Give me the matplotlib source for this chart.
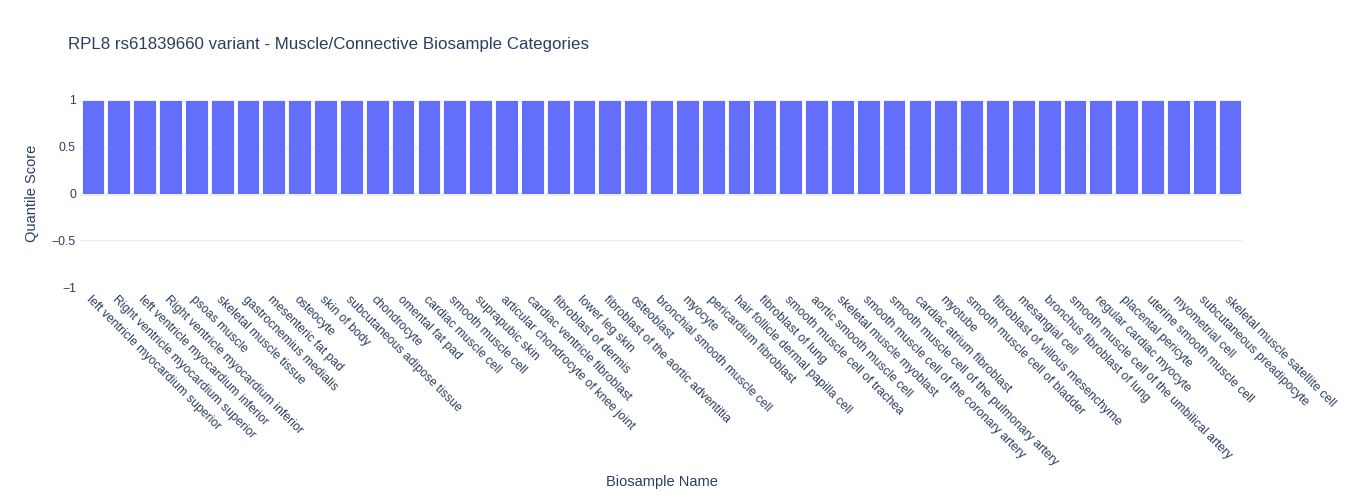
import numpy as np
import matplotlib
matplotlib.use("Agg")
import matplotlib.pyplot as plt

plt.rcParams['font.family'] = ['Liberation Sans', 'DejaVu Sans']

# data
biosamples = [
    "left ventricle myocardium superior",
    "Right ventricle myocardium superior",
    "left ventricle myocardium inferior",
    "Right ventricle myocardium inferior",
    "psoas muscle",
    "skeletal muscle tissue",
    "gastrocnemius medialis",
    "mesenteric fat pad",
    "osteocyte",
    "skin of body",
    "subcutaneous adipose tissue",
    "chondrocyte",
    "omental fat pad",
    "cardiac muscle cell",
    "smooth muscle cell",
    "suprapubic skin",
    "articular chondrocyte of knee joint",
    "cardiac ventricle fibroblast",
    "fibroblast of dermis",
    "lower leg skin",
    "fibroblast of the aortic adventitia",
    "osteoblast",
    "bronchial smooth muscle cell",
    "myocyte",
    "pericardium fibroblast",
    "hair follicle dermal papilla cell",
    "fibroblast of lung",
    "smooth muscle cell of trachea",
    "aortic smooth muscle cell",
    "skeletal muscle myoblast",
    "smooth muscle cell of the coronary artery",
    "smooth muscle cell of the pulmonary artery",
    "cardiac atrium fibroblast",
    "myotube",
    "smooth muscle cell of bladder",
    "fibroblast of villous mesenchyme",
    "mesangial cell",
    "bronchus fibroblast of lung",
    "smooth muscle cell of the umbilical artery",
    "regular cardiac myocyte",
    "placental pericyte",
    "uterine smooth muscle cell",
    "myometrial cell",
    "subcutaneous preadipocyte",
    "skeletal muscle satellite cell",
]
scores = [1.0] * len(biosamples)

yticks = [-1, -0.5, 0, 0.5, 1]
ytick_labels = ["\u22121", "\u22120.5", "0", "0.5", "1"]

txt = "#2a3f5f"
grid = "#ebf0f8"

fig = plt.figure(figsize=(13.5, 5), dpi=100)
ax = fig.add_axes([0.0593, 0.426, 0.8614, 0.374])

x = np.arange(len(biosamples))
ax.bar(x, scores, width=0.88, color="#636efa", edgecolor="white", linewidth=0.6, zorder=3)

ax.set_xlim(-0.5, len(biosamples) - 0.5)
ax.set_ylim(-1, 1)
ax.set_yticks(yticks)
ax.set_yticklabels(ytick_labels)
ax.yaxis.grid(True, color=grid, linewidth=1, zorder=0)
ax.axhline(0, color=grid, linewidth=2, zorder=1)

ax.set_xticks(x)
ax.set_xticklabels(biosamples, rotation=-45, ha='left', va='top', rotation_mode='anchor')

for s in ax.spines.values():
    s.set_visible(False)
ax.tick_params(axis='both', length=0, colors=txt, labelsize=8.8)
ax.tick_params(axis='y', pad=3)
ax.tick_params(axis='x', pad=5)

ax.set_ylabel("Quantile Score", color=txt, fontsize=10.5, labelpad=9)
fig.text(0.49, 0.036, "Biosample Name", color=txt, fontsize=10.5, ha='center', va='center')
fig.text(0.05, 0.91, "RPL8 rs61839660 variant - Muscle/Connective Biosample Categories",
         color=txt, fontsize=12.2, ha='left', va='center')

fig.savefig("out.png", dpi=100)
